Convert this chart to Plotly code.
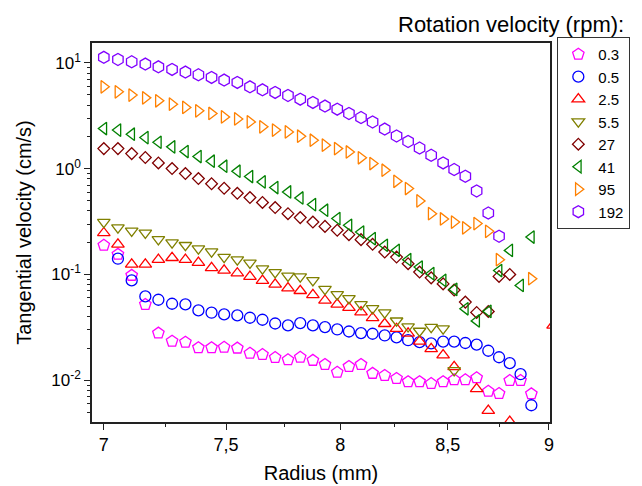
import plotly.graph_objects as go

# radius grid (mm)
radius = [7.000, 7.056, 7.111, 7.166, 7.219, 7.275, 7.330, 7.384, 7.439, 7.492,
          7.548, 7.602, 7.656, 7.711, 7.767, 7.821, 7.877, 7.931, 7.986, 8.039,
          8.094, 8.147, 8.203, 8.258, 8.312, 8.366, 8.421, 8.478, 8.531, 8.585,
          8.640, 8.697, 8.750, 8.803, 8.857, 8.911, 8.966, 9.021]

# tangential velocity (cm/s) for each rotation velocity
v_0_3 = [0.189, 0.155, 0.098, 0.0521, 0.0279, 0.0234, 0.0229, 0.0203, 0.0203, 0.0205,
         0.0201, 0.0180, 0.0175, 0.0164, 0.0156, 0.0165, 0.0154, 0.0141, 0.0119, 0.0135,
         0.0141, 0.0116, 0.0111, 0.0104, 0.00968, 0.00968, 0.0093, 0.00968, 0.0101, 0.0101,
         0.01054, 0.00787, 0.00748, 0.00994, 0.00994, 0.00743, None, None]
v_0_5 = [None, 0.141, 0.0879, 0.0620, 0.0577, 0.0529, 0.0521, 0.0457, 0.0435, 0.0419,
         0.0410, 0.0390, 0.0373, 0.0344, 0.0330, 0.0347, 0.0330, 0.0318, 0.0302, 0.0289,
         0.0279, 0.0275, 0.0265, 0.0254, 0.0239, 0.0229, 0.0223, 0.0232, 0.0232, 0.0225,
         0.0217, 0.0190, 0.0165, 0.0145, 0.0114, 0.0058, None, None]
v_2_5 = [0.247, 0.193, 0.1246, 0.1246, 0.138, 0.144, 0.138, 0.1293, 0.1155, 0.1093,
         0.1028, 0.0953, 0.0874, 0.0806, 0.0742, 0.0702, 0.0641, 0.0568, 0.0521, 0.0485,
         0.0440, 0.0388, 0.0342, 0.0307, 0.0277, 0.0233, 0.0198, 0.0173, 0.0134, None,
         0.00829, 0.00516, None, 0.00406, None, None, None, 0.033]
v_5_5 = [0.313, 0.277, 0.258, 0.247, 0.215, 0.200, 0.189, 0.1755, 0.1643, 0.146,
         0.138, 0.1288, 0.1135, 0.1047, 0.0970, 0.0953, 0.0879, 0.0726, 0.0648, 0.0594,
         0.0521, 0.0478, 0.0436, 0.0365, 0.0322, 0.0292, 0.0318, 0.0307, 0.0124, None,
         None, None, None, None, None, None, None, None]
v_27 = [1.55, 1.55, 1.39, 1.277, 1.135, 1.004, 0.901, 0.808, 0.721, 0.654,
        0.586, 0.534, 0.480, 0.429, 0.376, 0.345, 0.313, 0.285, 0.262, 0.238,
        0.2136, 0.193, 0.163, 0.146, 0.1265, 0.1054, 0.0929, 0.0815, 0.0712, 0.0548,
        0.0438, 0.0447, 0.0959, 0.100, None, None, None, None]
v_41 = [2.40, 2.32, 2.12, 1.97, 1.78, 1.61, 1.455, 1.305, 1.178, 1.056,
        0.947, 0.844, 0.750, 0.664, 0.603, 0.529, 0.458, 0.405, 0.338, 0.292,
        0.252, 0.218, 0.189, 0.169, 0.138, 0.1175, 0.1018, 0.0879, 0.0723, 0.0474,
        0.0364, 0.0448, 0.109, 0.169, 0.0788, 0.226, None, None]
v_95 = [5.95, 5.34, 4.97, 4.68, 4.39, 4.08, 3.80, 3.53, 3.33, 3.09,
        2.96, 2.77, 2.49, 2.32, 2.23, 2.03, 1.86, 1.67, 1.55, 1.44,
        1.27, 1.12, 0.968, 0.761, 0.650, 0.496, 0.376, 0.335, 0.313, 0.276,
        0.303, 0.256, 0.138, None, None, 0.0912, None, None]
v_192 = [11.3, 10.8, 10.27, 9.76, 9.20, 8.70, 8.20, 7.73, 7.31, 6.89,
         6.55, 5.95, 5.57, 5.27, 4.93, 4.55, 4.24, 3.91, 3.66, 3.33,
         3.05, 2.77, 2.37, 2.04, 1.81, 1.57, 1.34, 1.135, 0.983, 0.849,
         0.616, 0.381, 0.230, None, None, None, None, None]

series = [
    ("0.3", v_0_3, "pentagon-open", "#FF00FF", 12),
    ("0.5", v_0_5, "circle-open", "#0000FF", 11),
    ("2.5", v_2_5, "triangle-up-open", "#FF0000", 11),
    ("5.5", v_5_5, "triangle-down-open", "#808000", 11),
    ("27", v_27, "diamond-open", "#800000", 9),
    ("41", v_41, "triangle-left-open", "#008000", 11),
    ("95", v_95, "triangle-right-open", "#FF8000", 11),
    ("192", v_192, "hexagon-open", "#8000FF", 12),
]

fig = go.Figure()
for name, vals, sym, col, size in series:
    fig.add_trace(go.Scatter(x=radius, y=vals, mode="markers", name=name,
                             marker=dict(symbol=sym, size=size, color=col,
                                         line=dict(color=col, width=1.3))))

font = "Liberation Sans, Arial, sans-serif"
fig.update_layout(
    width=642, height=486,
    margin=dict(l=92, r=87, t=43, b=64),
    paper_bgcolor="white", plot_bgcolor="white",
    font=dict(family=font, color="black"),
    showlegend=True,
    legend=dict(x=1.016, y=1.016, xanchor="left", yanchor="top",
                bordercolor="#333", borderwidth=1, font=dict(size=15),
                tracegroupgap=0),
    annotations=[dict(text="Rotation velocity (rpm):", xref="paper", yref="paper",
                      x=1.165, y=1.048, xanchor="right", yanchor="middle",
                      showarrow=False, font=dict(size=22))],
)
fig.update_xaxes(
    type="log", range=[0.8422, 0.9545], automargin=False,
    tickvals=[7, 7.5, 8, 8.5, 9], ticktext=["7", "7,5", "8", "8,5", "9"],
    ticks="outside", ticklen=6, tickwidth=1.3, tickcolor="#222",
    minor=dict(tickvals=[7.25, 7.75, 8.25, 8.75], ticks="outside", ticklen=3,
               tickwidth=1.3, tickcolor="#222"),
    showline=True, linecolor="#222", linewidth=1.5, mirror=True,
    showgrid=False, zeroline=False, tickfont=dict(size=18),
    title=dict(text="Radius (mm)", font=dict(size=20), standoff=12),
)
fig.update_yaxes(
    type="log", range=[-2.395, 1.189], automargin=False,
    tickvals=[0.01, 0.1, 1, 10],
    ticktext=["10<sup>-2</sup>", "10<sup>-1</sup>", "10<sup>0</sup>", "10<sup>1</sup>"],
    ticks="outside", ticklen=6, tickwidth=1.3, tickcolor="#222",
    minor=dict(tickvals=[0.005, 0.006, 0.007, 0.008, 0.009,
                         0.02, 0.03, 0.04, 0.05, 0.06, 0.07, 0.08, 0.09,
                         0.2, 0.3, 0.4, 0.5, 0.6, 0.7, 0.8, 0.9,
                         2, 3, 4, 5, 6, 7, 8, 9],
               ticks="outside", ticklen=3, tickwidth=1.3, tickcolor="#222"),
    showline=True, linecolor="#222", linewidth=1.5, mirror=True,
    showgrid=False, zeroline=False, tickfont=dict(size=17),
    title=dict(text="Tangential velocity (cm/s)", font=dict(size=20), standoff=14),
)

# the page body has a default 8px margin; drop it so the figure fills the window
fig.write_html("out.html", config={"displayModeBar": False},
               post_script="document.body.style.margin='0';")
